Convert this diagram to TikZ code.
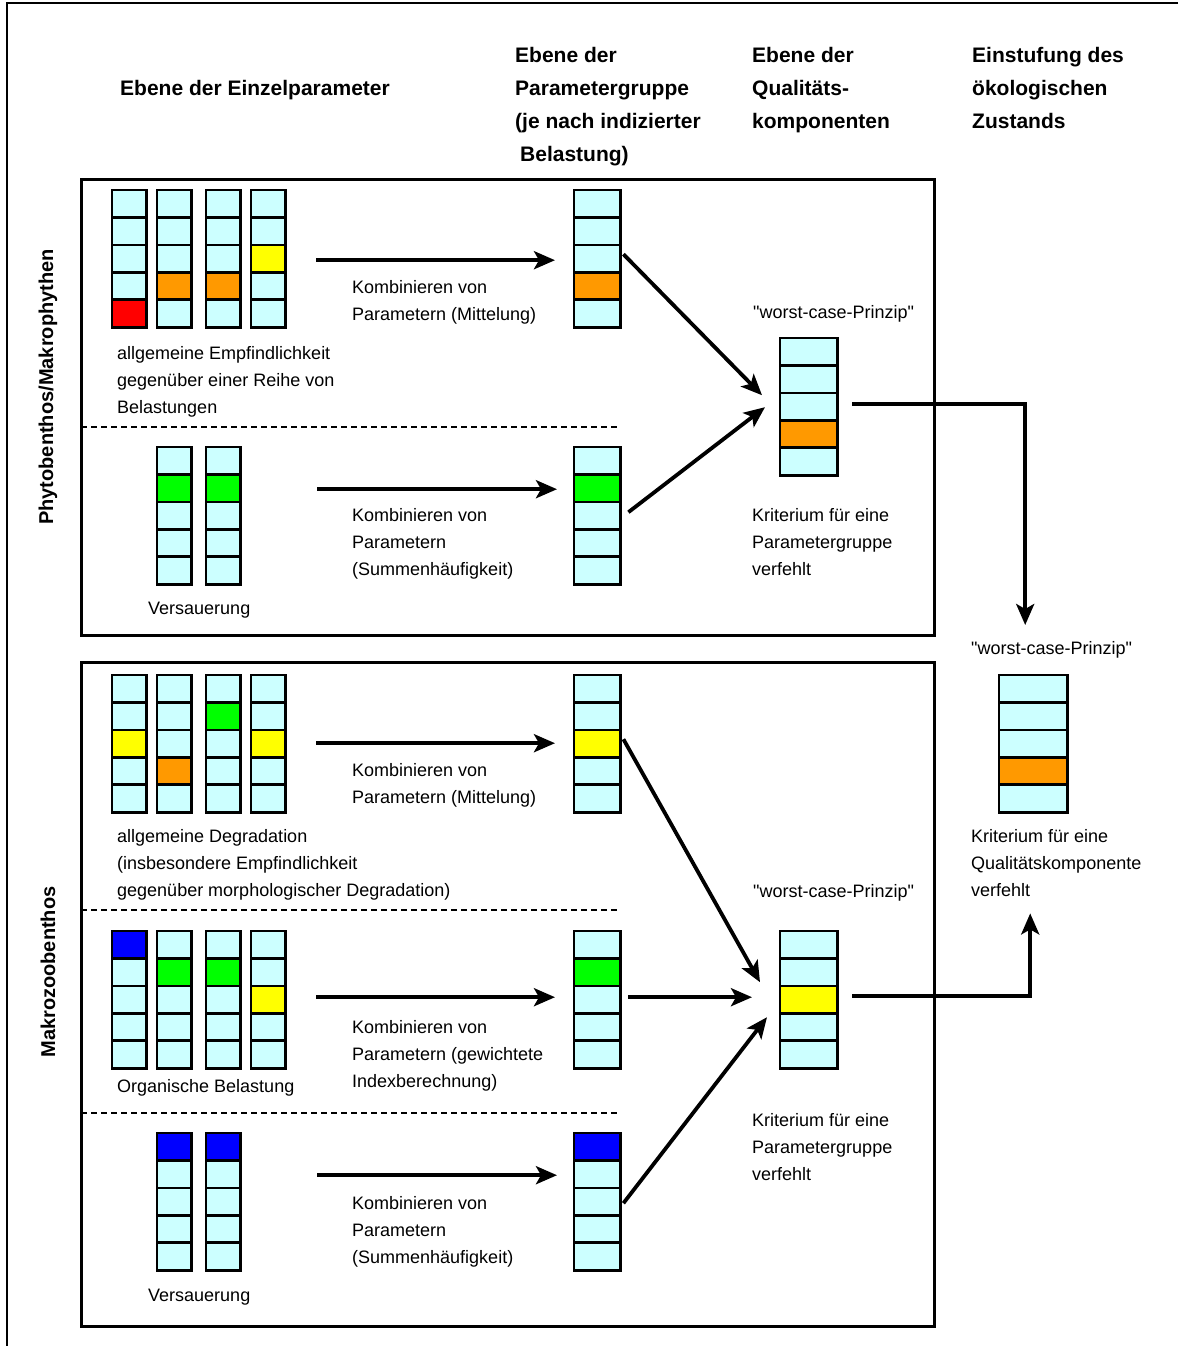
\documentclass[tikz,border=0pt]{standalone}
\usepackage{fontspec}
\setmainfont{Liberation Sans}[Ligatures=TeXOff]
\usepackage{tikz}
\usetikzlibrary{arrows.meta,calc}

\definecolor{zelle}{HTML}{CCFFFF}
\definecolor{rot}{HTML}{FF0000}
\definecolor{orng}{HTML}{FF9900}
\definecolor{gelb}{HTML}{FFFF00}
\definecolor{gruen}{HTML}{00FF00}
\definecolor{blau}{HTML}{0000FF}

% Saeule aus 5 Zellen: Name, x links, y oben, Breite, markierte Zelle, Farbe
\newcommand{\saeule}[6]{%
  \path (#2,#3) node[anchor=north west, minimum width=#4pt, minimum height=137pt,
    inner sep=0pt, fill=zelle] (#1) {};
  \ifnum#5>0
    \fill[#6] ($(#1.north west)+(0,{(#5-1)*27.4})$) rectangle ++(#4,27.4);
  \fi
  \foreach \k in {1,...,4}
    \draw[line width=2.6pt] ($(#1.north west)+(0,{\k*27.4})$) -- ++(#4,0);
  \draw[line width=2.6pt] (#1.north west) rectangle (#1.south east);
}

\begin{document}
\begin{tikzpicture}[x=1pt, y=-1pt,
    pfeil/.style={line width=3.8pt, -{Stealth[length=21pt, width=18pt, inset=5pt]}},
    txt/.style={anchor=north west, inner sep=0pt, align=left, font=\fontsize{18}{27}\selectfont},
    kopf/.style={anchor=north west, inner sep=0pt, align=left, font=\bfseries\fontsize{21}{33}\selectfont},
    seite/.style={font=\bfseries\fontsize{20}{24}\selectfont, rotate=90},
    trenn/.style={line width=2pt, dash pattern=on 6pt off 4pt}]

  \useasboundingbox (0,0) rectangle (1178,1346);

  % Rahmen
  \draw[line width=1.5pt] (1178,3) -- (7,3) -- (7,1346);

  % Kopfzeile
  \node[kopf, anchor=north] (k1) at (255,80) {Ebene der Einzelparameter};
  \node[kopf] (k2) at (515,47) {Ebene der\\Parametergruppe\\(je nach indizierter\\\hspace{5pt}Belastung)};
  \node[kopf] (k3) at (752,47) {Ebene der\\Qualitäts-\\komponenten};
  \node[kopf] (k4) at (972,47) {Einstufung des\\ökologischen\\Zustands};

  % Gruppen
  \node[seite] (s1) at (48,387) {Phytobenthos/Makrophythen};
  \node[seite] (s2) at (48,972) {Makrozoobenthos};
  \draw[line width=3pt] (81,179) rectangle (934,635);
  \draw[line width=3pt] (81,662) rectangle (934,1326);
  \draw[trenn] (81,427) -- (620,427);
  \draw[trenn] (81,910) -- (620,910);
  \draw[trenn] (81,1113) -- (620,1113);

  % Phytobenthos/Makrophythen
  \saeule{e11}{112}{190}{34}{5}{rot}
  \saeule{e12}{157}{190}{34}{4}{orng}
  \saeule{e13}{206}{190}{34}{4}{orng}
  \saeule{e14}{251}{190}{34}{3}{gelb}
  \saeule{g1}{574}{190}{46}{4}{orng}
  \saeule{e21}{157}{447}{34}{2}{gruen}
  \saeule{e22}{206}{447}{34}{2}{gruen}
  \saeule{g2}{574}{447}{46}{2}{gruen}
  \saeule{q1}{780}{338}{57}{4}{orng}

  \node[txt] (t11) at (117,346) {allgemeine Empfindlichkeit\\gegenüber einer Reihe von\\Belastungen};
  \node[txt] (t12) at (352,280) {Kombinieren von\\Parametern (Mittelung)};
  \node[txt] (t21) at (148,602) {Versauerung};
  \node[txt] (t22) at (352,508) {Kombinieren von\\Parametern\\(Summenhäufigkeit)};
  \node[txt] (w1) at (753,305) {"worst-case-Prinzip"};
  \node[txt] (r1) at (752,508) {Kriterium für eine\\Parametergruppe\\verfehlt};

  % Makrozoobenthos
  \saeule{e31}{112}{675}{34}{3}{gelb}
  \saeule{e32}{157}{675}{34}{4}{orng}
  \saeule{e33}{206}{675}{34}{2}{gruen}
  \saeule{e34}{251}{675}{34}{3}{gelb}
  \saeule{g3}{574}{675}{46}{3}{gelb}
  \saeule{e41}{112}{931}{34}{1}{blau}
  \saeule{e42}{157}{931}{34}{2}{gruen}
  \saeule{e43}{206}{931}{34}{2}{gruen}
  \saeule{e44}{251}{931}{34}{3}{gelb}
  \saeule{g4}{574}{931}{46}{2}{gruen}
  \saeule{e51}{157}{1133}{34}{1}{blau}
  \saeule{e52}{206}{1133}{34}{1}{blau}
  \saeule{g5}{574}{1133}{46}{1}{blau}
  \saeule{q2}{780}{931}{57}{3}{gelb}

  \node[txt] (t31) at (117,829) {allgemeine Degradation\\(insbesondere Empfindlichkeit\\gegenüber morphologischer Degradation)};
  \node[txt] (t32) at (352,763) {Kombinieren von\\Parametern (Mittelung)};
  \node[txt] (t41) at (117,1079) {Organische Belastung};
  \node[txt] (t42) at (352,1020) {Kombinieren von\\Parametern (gewichtete\\Indexberechnung)};
  \node[txt] (t51) at (148,1289) {Versauerung};
  \node[txt] (t52) at (352,1196) {Kombinieren von\\Parametern\\(Summenhäufigkeit)};
  \node[txt] (w2) at (753,884) {"worst-case-Prinzip"};
  \node[txt] (r2) at (752,1113) {Kriterium für eine\\Parametergruppe\\verfehlt};

  % oekologischer Zustand
  \saeule{f}{999}{675}{68}{4}{orng}
  \node[txt] (w3) at (971,641) {"worst-case-Prinzip"};
  \node[txt] (r3) at (971,829) {Kriterium für eine\\Qualitätskomponente\\verfehlt};

  % Pfeile
  \draw[pfeil] ($(e14.east)+(31,1.5)$) -- ($(g1.west)+(-19,1.5)$);
  \draw[pfeil] ($(e22.east)+(77,-26.5)$) -- ($(g2.west)+(-17,-26.5)$);
  \draw[pfeil] ($(g1.east)+(3,-4.5)$) -- ($(q1.west)+(-18,-11.5)$);
  \draw[pfeil] ($(g2.east)+(8,-3.5)$) -- ($(q1.west)+(-15,0.5)$);

  \draw[pfeil] ($(e34.east)+(31,-0.5)$) -- ($(g3.west)+(-19,-0.5)$);
  \draw[pfeil] ($(e44.east)+(31,-2.5)$) -- ($(g4.west)+(-19,-2.5)$);
  \draw[pfeil] ($(e52.east)+(77,-26.5)$) -- ($(g5.west)+(-17,-26.5)$);
  \draw[pfeil] ($(g3.east)+(3,-4.5)$) -- ($(q2.west)+(-20,-17.5)$);
  \draw[pfeil] ($(g4.east)+(8,-2.5)$) -- ($(q2.west)+(-28,-2.5)$);
  \draw[pfeil] ($(g5.east)+(3,1.5)$) -- ($(q2.west)+(-13,17.5)$);

  \draw[pfeil] ($(q1.east)+(15,-2.5)$) -| ($(f.north)+(-8,-50)$);
  \draw[pfeil] ($(q2.east)+(15,-3.5)$) -| ($(f.south)+(-3,101)$);
\end{tikzpicture}
\end{document}
